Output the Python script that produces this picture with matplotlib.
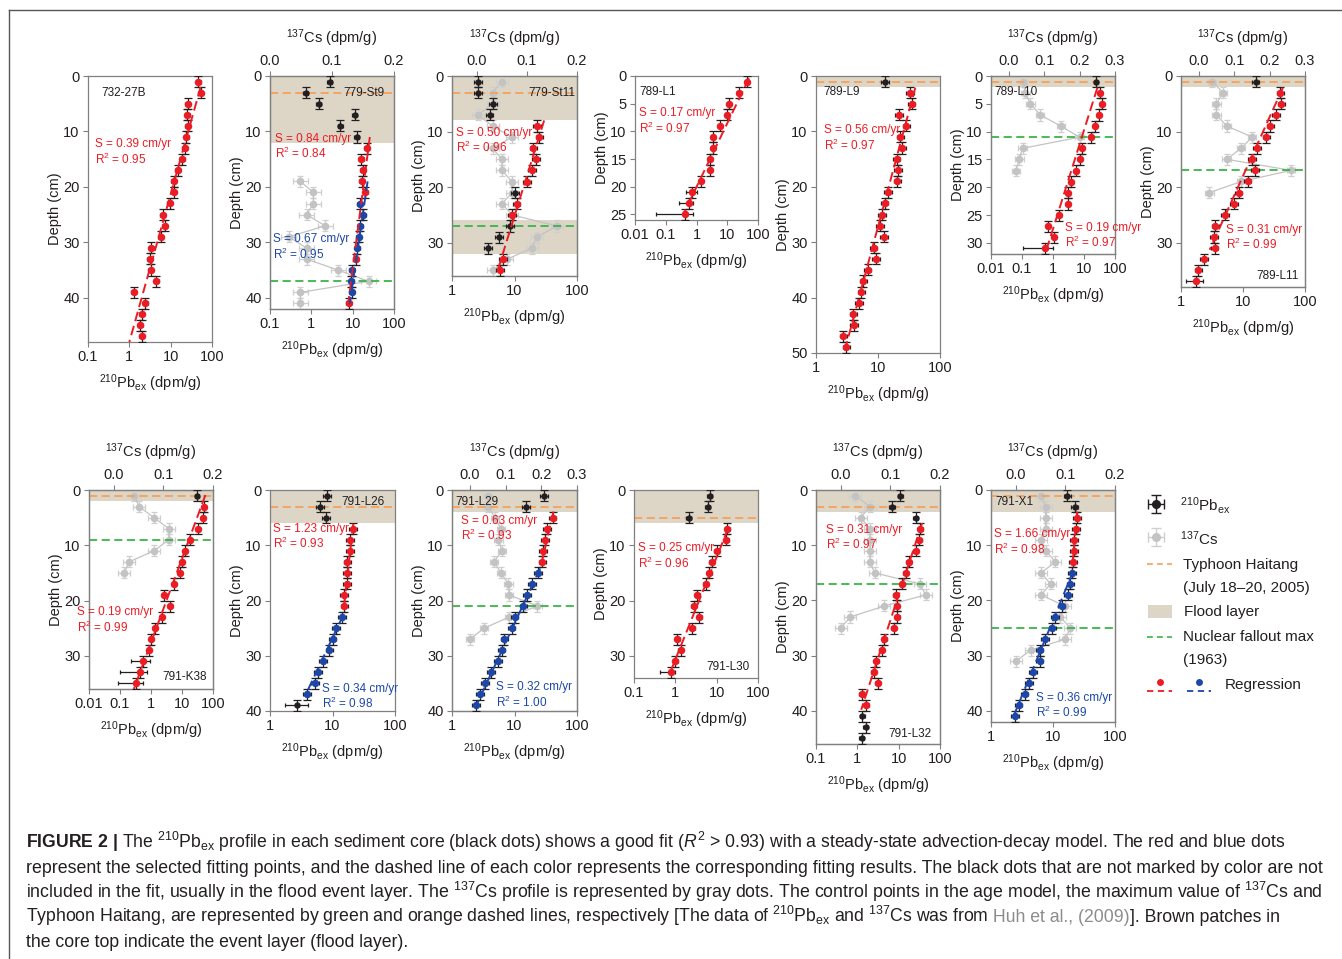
import matplotlib
matplotlib.use('Agg')
import matplotlib.pyplot as plt
from matplotlib import font_manager
from matplotlib.lines import Line2D
from matplotlib.patches import Rectangle
from matplotlib.ticker import FixedLocator, FuncFormatter, NullLocator

W, H = 1342, 959

RED = '#ec1c24'
BLUE = '#1c47a8'
BLACK = '#231f20'
GRAY_DOT = '#c3c3c3'
GRAY_BAR = '#cfcfcf'
FLOOD = '#ddd6c6'
ORANGE = '#f5a05a'
GREEN = '#3bb44a'
SPINE = '#808080'
TXT = '#231f20'

names = {f.name for f in font_manager.fontManager.ttflist}
CAP_FONT = 'Liberation Sans Narrow' if 'Liberation Sans Narrow' in names else 'Liberation Sans'

plt.rcParams['font.family'] = ['Liberation Sans', 'DejaVu Sans']
plt.rcParams['mathtext.fontset'] = 'custom'
plt.rcParams['mathtext.rm'] = 'Liberation Sans'
plt.rcParams['mathtext.it'] = 'Liberation Sans:italic'
plt.rcParams['mathtext.bf'] = CAP_FONT + ':bold'

# ---------------- data: depth (cm), 210Pb_ex (dpm/g), fit group (k = not fitted, r = red, b = blue)
c27b_depth = [1, 3, 5, 7, 9, 11, 13, 15, 17, 19, 21, 23, 25, 27, 29, 31, 33, 35, 37, 39, 41, 43, 45, 47]
c27b_pb = [46, 53, 26, 25, 26, 24, 22, 19, 15, 12, 12, 9.5, 6.4, 7.2, 5.7, 3.4, 3.1, 3.3, 4.5, 1.27, 2.4, 2.0, 1.85, 2.0]
c27b_grp = 'rrrrrrrrrrrrrrrrrrrrrrrr'
c27b_fit_red = [(2, 53), (48, 1.0)]
c27b_stats = [(0.39, 0.95)]

st9_depth = [1, 3, 5, 7, 9, 11, 13, 15, 17, 19, 21, 23, 25, 27, 29, 31, 33, 35, 37, 39, 41]
st9_pb = [2.8, 0.73, 1.5, 11.2, 5.0, 12.7, 22, 16, 17.5, 16.8, 20, 15, 17.8, 15.3, 14.2, 13, 12, 9.5, 9.3, 9.5, 8.1]
st9_grp = 'kkkkkkrrrrrbbbbbrbbbr'
st9_cs_depth = [19, 21, 23, 25, 27, 29, 31, 33, 35, 37, 39, 41]
st9_cs = [0.049, 0.070, 0.070, 0.059, 0.089, 0.030, 0.059, 0.059, 0.110, 0.159, 0.049, 0.049]
st9_fit_red = [(11, 26), (41, 7.8)]
st9_fit_blue = [(19, 23), (41, 8.5)]
st9_stats = [(0.84, 0.84), (0.67, 0.95)]

st11_depth = [1, 3, 5, 7, 9, 11, 13, 15, 17, 19, 21, 23, 25, 27, 29, 31, 33, 35]
st11_pb = [2.6, 2.6, 4.5, 4.0, 23, 25, 20, 22, 19, 16, 10.2, 10.8, 9.2, 8.5, 5.7, 3.8, 6.6, 5.9]
st11_grp = 'kkkkrrrrrrkrrkkkrr'
st11_cs_depth = [1, 3, 5, 7, 9, 11, 13, 15, 17, 19, 21, 23, 25, 27, 29, 31, 33, 35]
st11_cs = [0.050, 0.031, 0.031, 0.002, 0.031, 0.070, 0.031, 0.050, 0.050, 0.070, 0.070, 0.050, 0.070,
           0.160, 0.119, 0.110, 0.059, 0.031]
st11_fit_red = [(8, 29.8), (35.5, 5.2)]
st11_stats = [(0.50, 0.96)]

l1_depth = [1, 3, 5, 7, 9, 11, 13, 15, 17, 19, 21, 23, 25]
l1_pb = [44, 23.6, 11.5, 10, 5.9, 3.5, 3.5, 2.7, 2.7, 1.45, 0.72, 0.55, 0.43]
l1_grp = 'rrrrrrrrrrrrr'
l1_wide = {21: (0.45, 1.0), 23: (0.26, 0.78), 25: (0.047, 0.78)}
l1_fit_red = [(0.4, 51), (25, 0.37)]
l1_stats = [(0.17, 0.97)]

l9_depth = [1, 3, 5, 7, 9, 11, 13, 15, 17, 19, 21, 23, 25, 27, 29, 31, 33, 35, 37, 39, 41, 43, 45, 47, 49]
l9_pb = [12.9, 32.5, 34.8, 22, 28.8, 23, 24.8, 20, 21, 20.5, 14.4, 12.8, 11.6, 10.8, 12.4, 8.5, 9.2,
         6.8, 5.8, 5.4, 4.9, 4.0, 4.1, 2.76, 3.1]
l9_grp = 'krrrrrrrrrrrrrrrrrrrrrrrr'
l9_fit_red = [(2.1, 40), (50, 2.84)]
l9_stats = [(0.56, 0.97)]

l10_depth = [1, 3, 5, 7, 9, 11, 13, 15, 17, 19, 21, 23, 25, 27, 29, 31]
l10_pb = [24.5, 33, 37.7, 29.5, 22.5, 16.7, 8.7, 7.6, 5.4, 3.9, 2.96, 3.1, 1.58, 0.70, 1.06, 0.54]
l10_grp = 'krrrrrrrrrrrrrrr'
l10_wide = {31: (0.11, 1.0)}
l10_cs_depth = [1, 3, 5, 7, 9, 11, 13, 15, 17]
l10_cs = [0.039, 0.047, 0.061, 0.089, 0.147, 0.200, 0.039, 0.030, 0.020]
l10_fit_red = [(2.1, 27), (31.3, 0.61)]
l10_stats = [(0.19, 0.97)]

l11_depth = [1, 3, 5, 7, 9, 11, 13, 15, 17, 19, 21, 23, 25, 27, 29, 31, 33, 35, 37]
l11_pb = [16, 40, 41.5, 33.8, 27.6, 23.8, 16.7, 14, 15.6, 11.9, 8.5, 7.1, 5.1, 3.6, 3.4, 3.5, 2.35, 1.9, 1.72]
l11_grp = 'krrrrrrrrrrrrrrrrrr'
l11_wide = {37: (1.22, 2.25)}
l11_cs_depth = [1, 3, 5, 7, 9, 11, 13, 15, 17, 19, 21]
l11_cs = [0.038, 0.069, 0.050, 0.050, 0.079, 0.151, 0.120, 0.079, 0.261, 0.120, 0.030]
l11_fit_red = [(2.1, 44), (31.3, 2.9)]
l11_stats = [(0.31, 0.99)]

k38_depth = [1, 3, 5, 7, 9, 11, 13, 15, 17, 19, 21, 23, 25, 27, 29, 31, 33, 35]
k38_pb = [30.5, 51, 48.7, 33.6, 18.1, 12.8, 10, 8.6, 5.4, 2.7, 4.2, 2.2, 1.35, 1.03, 0.86, 0.57, 0.43, 0.32]
k38_grp = 'krrrrrrrrrrrrrrrrr'
k38_wide = {31: (0.23, 0.9), 33: (0.098, 0.76), 35: (0.088, 0.55)}
k38_cs_depth = [1, 3, 5, 7, 9, 11, 13, 15]
k38_cs = [0.041, 0.051, 0.081, 0.111, 0.111, 0.081, 0.031, 0.021]
k38_fit_red = [(0.9, 57), (36, 0.28)]
k38_stats = [(0.19, 0.99)]

l26_depth = [1, 3, 5, 7, 9, 11, 13, 15, 17, 19, 21, 23, 25, 27, 29, 31, 33, 35, 37, 39]
l26_pb = [8.1, 6.3, 7.9, 21.5, 19, 19, 17.3, 16.9, 16.9, 15.3, 15.5, 14.2, 11.4, 10, 8.9, 7.1, 5.8, 5.3, 3.9, 2.7]
l26_grp = 'kkkrrrrrrrrbbbbbbbbk'
l26_wide = {39: (1.74, 4.0)}
l26_fit_red = [(6.1, 21.5), (21, 15.3)]
l26_fit_blue = [(22.6, 14.9), (37.4, 3.6)]
l26_stats = [(1.23, 0.93), (0.34, 0.98)]

l29_depth = [1, 3, 5, 7, 9, 11, 13, 15, 17, 19, 21, 23, 25, 27, 29, 31, 33, 35, 37, 39]
l29_pb = [29.8, 15.3, 40.6, 32.9, 31, 28.4, 28, 23.6, 18.9, 15.9, 13.9, 10, 9.0, 6.9, 6.2, 5.4, 4.2, 3.35, 2.8, 2.4]
l29_grp = 'kkrrrrrbbbbbbbbbbbbb'
l29_cs_depth = [1, 3, 5, 7, 9, 11, 13, 15, 17, 19, 21, 23, 25, 27]
l29_cs = [0.050, 0.052, 0.070, 0.087, 0.080, 0.090, 0.068, 0.087, 0.108, 0.110, 0.189, 0.110, 0.040, 0.0]
l29_fit_red = [(3.9, 42), (13.3, 27)]
l29_fit_blue = [(14.2, 25.7), (39.2, 2.4)]
l29_stats = [(0.63, 0.93), (0.32, 1.00)]

l30_depth = [1, 3, 5, 7, 9, 11, 13, 15, 17, 19, 21, 23, 25, 27, 29, 31, 33]
l30_pb = [6.8, 6.1, 2.1, 18.2, 16.9, 10.1, 7.6, 6.6, 5.5, 3.4, 2.8, 3.8, 2.6, 1.1, 1.36, 1.0, 0.77]
l30_grp = 'kkkrrrrrrrrrrrrrr'
l30_wide = {33: (0.42, 0.98)}
l30_fit_red = [(7, 18.9), (33.1, 0.74)]
l30_stats = [(0.25, 0.96)]

l32_depth = [1, 3, 5, 7, 9, 11, 13, 15, 17, 19, 21, 23, 25, 27, 29, 31, 33, 35, 37, 39, 41, 43, 45]
l32_pb = [11, 6.9, 26, 33.5, 31.6, 25.6, 17.5, 14.7, 12.1, 8.6, 9.1, 9.3, 7.5, 4.5, 3.9, 2.9, 2.5, 3.1,
          1.28, 1.65, 1.33, 1.6, 1.28]
l32_grp = 'kkkrrrrrrrrrrrrrrrrrkkk'
l32_cs_depth = [1, 3, 5, 7, 9, 11, 13, 15, 17, 19, 21, 23, 25]
l32_cs = [0.029, 0.059, 0.040, 0.059, 0.059, 0.059, 0.059, 0.068, 0.159, 0.171, 0.088, 0.019, 0.0]
l32_fit_red = [(6, 36.9), (39.8, 1.24)]
l32_stats = [(0.31, 0.97)]

x1_depth = [1, 3, 5, 7, 9, 11, 13, 15, 17, 19, 21, 23, 25, 27, 29, 31, 33, 35, 37, 39, 41]
x1_pb = [17.1, 22.4, 24.2, 23.3, 21.8, 21.8, 21, 20.2, 19, 17.3, 13.8, 10.7, 9.8, 7.5, 6.1, 6.1, 4.8, 4.1, 3.5, 2.8, 2.45]
x1_grp = 'kkrrrrrbbbbbbbbbbbbbb'
x1_cs_depth = [1, 3, 5, 7, 9, 11, 13, 15, 17, 19, 21, 23, 25, 27, 29, 31]
x1_cs = [0.051, 0.060, 0.060, 0.060, 0.051, 0.060, 0.080, 0.051, 0.070, 0.051, 0.099, 0.090, 0.110,
         0.099, 0.030, 0.0]
x1_fit_red = [(3.9, 24.5), (14.5, 20.2)]
x1_fit_blue = [(14.8, 21), (41, 2.3)]
x1_stats = [(1.66, 0.98), (0.36, 0.99)]

PB_REL = 1.15     # relative size of the 210Pb error bars
CS_ERR = 0.012    # half width of the 137Cs error bars

# ---------------- panel layout (pixel boxes, axis ranges, event layers, text places)
cores = [
    dict(name='732-27B', rect=(88, 212, 76, 342), xlim=(0.1, 100), ymax=48, ystep=10,
         depth=c27b_depth, pb=c27b_pb, grp=c27b_grp, fits=[(RED, c27b_fit_red)],
         stats=c27b_stats, stat_pos=[(0.15, 12.3)], label=(0.21, 3, 'left')),
    dict(name='779-St9', rect=(270, 394, 76, 309), xlim=(0.1, 100), ymax=42, ystep=10,
         depth=st9_depth, pb=st9_pb, grp=st9_grp, cs_depth=st9_cs_depth, cs=st9_cs, cs_lim=(0, 0.2),
         fits=[(RED, st9_fit_red), (BLUE, st9_fit_blue)], flood=[(0, 12)], orange=3, green=37,
         stats=st9_stats, stat_pos=[(0.13, 11.3), (0.115, 29.4)], label=(60, 3, 'right')),
    dict(name='779-St11', rect=(452, 577, 76, 276), xlim=(1, 100), ymax=36, ystep=10,
         depth=st11_depth, pb=st11_pb, grp=st11_grp, cs_depth=st11_cs_depth, cs=st11_cs,
         cs_lim=(-0.05, 0.2), fits=[(RED, st11_fit_red)], flood=[(0, 8), (26, 32)], orange=3, green=27,
         stats=st11_stats, stat_pos=[(1.15, 10.2)], label=(94, 3, 'right')),
    dict(name='789-L1', rect=(635, 758, 76, 220), xlim=(0.01, 100), ymax=26, ystep=5,
         depth=l1_depth, pb=l1_pb, grp=l1_grp, wide=l1_wide, fits=[(RED, l1_fit_red)],
         stats=l1_stats, stat_pos=[(0.0138, 6.7)], label=(0.0138, 2.8, 'left')),
    dict(name='789-L9', rect=(816, 940, 76, 353), xlim=(1, 100), ymax=50, ystep=10,
         depth=l9_depth, pb=l9_pb, grp=l9_grp, fits=[(RED, l9_fit_red)], flood=[(0, 2)], orange=1,
         stats=l9_stats, stat_pos=[(1.35, 9.8)], label=(1.31, 2.9, 'left')),
    dict(name='789-L10', rect=(991, 1115, 76, 254), xlim=(0.01, 100), ymax=32, ystep=5,
         depth=l10_depth, pb=l10_pb, grp=l10_grp, wide=l10_wide, cs_depth=l10_cs_depth, cs=l10_cs,
         cs_lim=(-0.05, 0.3), fits=[(RED, l10_fit_red)], flood=[(0, 2)], orange=1, green=11,
         stats=l10_stats, stat_pos=[(2.4, 27.3)], label=(0.0131, 2.9, 'left')),
    dict(name='789-L11', rect=(1181, 1305, 76, 287), xlim=(1, 100), ymax=38, ystep=10,
         depth=l11_depth, pb=l11_pb, grp=l11_grp, wide=l11_wide, cs_depth=l11_cs_depth, cs=l11_cs,
         cs_lim=(-0.05, 0.3), fits=[(RED, l11_fit_red)], flood=[(0, 2)], orange=1, green=17,
         stats=l11_stats, stat_pos=[(5.3, 27.7)], label=(78, 36, 'right')),
    dict(name='791-K38', rect=(89, 213, 490, 689), xlim=(0.01, 100), ymax=36, ystep=10,
         depth=k38_depth, pb=k38_pb, grp=k38_grp, wide=k38_wide, cs_depth=k38_cs_depth, cs=k38_cs,
         cs_lim=(-0.05, 0.2), fits=[(RED, k38_fit_red)], flood=[(0, 2)], orange=1, green=9,
         stats=k38_stats, stat_pos=[(0.0041, 22.1)], label=(64, 33.8, 'right')),
    dict(name='791-L26', rect=(270, 395, 490, 711), xlim=(1, 100), ymax=40, ystep=10,
         depth=l26_depth, pb=l26_pb, grp=l26_grp, wide=l26_wide,
         fits=[(RED, l26_fit_red), (BLUE, l26_fit_blue)], flood=[(0, 6)], orange=3,
         stats=l26_stats, stat_pos=[(1.13, 7.0), (6.7, 36.0)], label=(69, 2.1, 'right')),
    dict(name='791-L29', rect=(452, 577, 490, 711), xlim=(1, 100), ymax=40, ystep=10,
         depth=l29_depth, pb=l29_pb, grp=l29_grp, cs_depth=l29_cs_depth, cs=l29_cs, cs_lim=(-0.05, 0.3),
         fits=[(RED, l29_fit_red), (BLUE, l29_fit_blue)], flood=[(0, 4)], orange=3, green=21,
         stats=l29_stats, stat_pos=[(1.38, 5.6), (4.97, 35.7)], label=(1.13, 2.2, 'left')),
    dict(name='791-L30', rect=(634, 758, 490, 678), xlim=(0.1, 100), ymax=34, ystep=10,
         depth=l30_depth, pb=l30_pb, grp=l30_grp, wide=l30_wide, fits=[(RED, l30_fit_red)],
         flood=[(0, 6)], orange=5, stats=l30_stats, stat_pos=[(0.123, 10.5)], label=(63, 32, 'right')),
    dict(name='791-L32', rect=(816, 940, 490, 744), xlim=(0.1, 100), ymax=46, ystep=10,
         depth=l32_depth, pb=l32_pb, grp=l32_grp, cs_depth=l32_cs_depth, cs=l32_cs, cs_lim=(-0.05, 0.2),
         fits=[(RED, l32_fit_red)], flood=[(0, 4)], orange=3, green=17,
         stats=l32_stats, stat_pos=[(0.171, 7.2)], label=(62, 44.2, 'right')),
    dict(name='791-X1', rect=(991, 1115, 490, 722), xlim=(1, 100), ymax=42, ystep=10,
         depth=x1_depth, pb=x1_pb, grp=x1_grp, cs_depth=x1_cs_depth, cs=x1_cs, cs_lim=(-0.05, 0.2),
         fits=[(RED, x1_fit_red), (BLUE, x1_fit_blue)], flood=[(0, 4)], orange=1, green=25,
         stats=x1_stats, stat_pos=[(1.1, 8.0), (5.3, 37.6)], label=(1.18, 2.2, 'left')),
]

GROUP_COLOURS = {'k': BLACK, 'r': RED, 'b': BLUE}
TICK_SIZE = 10.5
LABEL_SIZE = 10.5
NOTE_SIZE = 8.5

fig = plt.figure(figsize=(W / 100, H / 100), dpi=100)


def px_rect(x0, x1, y0, y1):
    return [x0 / W, 1 - y1 / H, (x1 - x0) / W, (y1 - y0) / H]


def style_axis(ax):
    for sp in ax.spines.values():
        sp.set_color(SPINE)
        sp.set_linewidth(0.9)
    ax.tick_params(colors=SPINE, labelcolor=TXT, labelsize=TICK_SIZE, length=3.5, width=0.8, pad=2.5)


def decade_ticks(lo, hi):
    ticks = []
    v = lo
    while v <= hi * 1.001:
        ticks.append(v)
        v *= 10
    return ticks


def draw_core(c):
    ax = fig.add_axes(px_rect(*c['rect']))
    ax.set_xscale('log')
    ax.set_xlim(*c['xlim'])
    ax.set_ylim(c['ymax'], 0)
    ax.xaxis.set_major_locator(FixedLocator(decade_ticks(*c['xlim'])))
    ax.xaxis.set_minor_locator(NullLocator())
    ax.xaxis.set_major_formatter(FuncFormatter(lambda v, p: f'{v:g}'))
    ax.set_yticks(list(range(0, c['ymax'] + 1, c['ystep'])))
    style_axis(ax)
    ax.set_ylabel('Depth (cm)', fontsize=LABEL_SIZE, labelpad=1, color=TXT)
    ax.set_xlabel(r'$^{210}$Pb$_{\rm ex}$ (dpm/g)', fontsize=LABEL_SIZE, labelpad=6, color=TXT)

    back = ax
    if 'cs' in c:
        cax = ax.twiny()
        cax.set_xlim(*c['cs_lim'])
        ticks = [t / 10 for t in range(0, 4) if t / 10 <= c['cs_lim'][1] + 1e-9]
        cax.set_xticks(ticks)
        cax.xaxis.set_major_formatter(FuncFormatter(lambda v, p: f'{v:.1f}'))
        style_axis(cax)
        cax.set_xlabel(r'$^{137}$Cs (dpm/g)', fontsize=LABEL_SIZE, labelpad=8, color=TXT)
        ax.set_zorder(cax.get_zorder() + 1)
        ax.patch.set_visible(False)
        cax.errorbar(c['cs'], c['cs_depth'], xerr=CS_ERR, yerr=1, fmt='-o', color=GRAY_DOT,
                     ecolor=GRAY_BAR, lw=0.9, ms=4.5, elinewidth=0.9, capsize=2.5, capthick=0.9,
                     zorder=3)
        back = cax

    for top, bot in c.get('flood', []):
        back.axhspan(top, bot, color=FLOOD, lw=0, zorder=0)
    if 'orange' in c:
        ax.axhline(c['orange'], color=ORANGE, lw=1.3, dashes=(4.5, 2.5), zorder=2)
    if 'green' in c:
        ax.axhline(c['green'], color=GREEN, lw=1.3, dashes=(4.5, 2.5), zorder=2)

    wide = c.get('wide', {})
    lo, hi = [], []
    for d, v in zip(c['depth'], c['pb']):
        if d in wide:
            a, b = wide[d]
        else:
            a, b = v / PB_REL, v * PB_REL
        lo.append(v - a)
        hi.append(b - v)
    # depth interval bars with wide caps, activity bars with short caps
    ax.errorbar(c['pb'], c['depth'], yerr=1, fmt='none', ecolor=BLACK,
                elinewidth=0.9, capsize=3.2, capthick=0.9, zorder=3)
    ax.errorbar(c['pb'], c['depth'], xerr=[lo, hi], fmt='none', ecolor=BLACK,
                elinewidth=0.9, capsize=1.6, capthick=0.9, zorder=3)
    for g, col in GROUP_COLOURS.items():
        xs = [v for v, k in zip(c['pb'], c['grp']) if k == g]
        ys = [d for d, k in zip(c['depth'], c['grp']) if k == g]
        if xs:
            ax.plot(xs, ys, 'o', color=col, ms=4.6 if g == 'k' else 5.4, mew=0, zorder=4)

    for col, fit in c['fits']:
        (d0, v0), (d1, v1) = fit
        ax.plot([v0, v1], [d0, d1], color=col, lw=1.4, dashes=(5, 2.5), zorder=5)

    fit_cols = [col for col, _ in c['fits']]
    for col, (s, r2), (x, y) in zip(fit_cols, c['stats'], c['stat_pos']):
        ax.text(x, y, f'S = {s:.2f} cm/yr', color=col, fontsize=NOTE_SIZE, va='center', ha='left', zorder=6)
        ax.text(x, y + 2.7, f'R$^2$ = {r2:.2f}', color=col, fontsize=NOTE_SIZE, va='center', ha='left',
                zorder=6)

    lx, ly, lha = c['label']
    ax.text(lx, ly, c['name'], fontsize=NOTE_SIZE, color=TXT, ha=lha, va='center', zorder=6)


for core in cores:
    draw_core(core)

# ---------------- legend
lax = fig.add_axes(px_rect(1140, 1340, 480, 710))
lax.set_xlim(1140, 1340)
lax.set_ylim(710, 480)
lax.axis('off')
LEG = 11
lax.errorbar([1156], [504], xerr=8, yerr=9, fmt='o', color=BLACK, ms=5.5, elinewidth=1, capsize=3.5)
lax.text(1180, 505, r'$^{210}$Pb$_{\rm ex}$', fontsize=LEG, va='center', color=TXT)
lax.errorbar([1156], [537], xerr=8, yerr=9, fmt='o', color=GRAY_DOT, ecolor=GRAY_BAR, ms=5.5,
             elinewidth=1, capsize=3.5)
lax.text(1180, 539, r'$^{137}$Cs', fontsize=LEG, va='center', color=TXT)
lax.plot([1147, 1172], [564, 564], color=ORANGE, lw=1.2, dashes=(3.5, 2.5))
lax.text(1183, 565, 'Typhoon Haitang', fontsize=LEG, va='center', color=TXT)
lax.text(1183, 588, '(July 18\u201320, 2005)', fontsize=LEG, va='center', color=TXT)
lax.add_patch(Rectangle((1148, 605), 24, 13, color=FLOOD, lw=0))
lax.text(1184, 612, 'Flood layer', fontsize=LEG, va='center', color=TXT)
lax.plot([1147, 1172], [637, 637], color=GREEN, lw=1.2, dashes=(3.5, 2.5))
lax.text(1183, 637, 'Nuclear fallout max', fontsize=LEG, va='center', color=TXT)
lax.text(1183, 660, '(1963)', fontsize=LEG, va='center', color=TXT)
lax.plot([1160], [682], 'o', color=RED, ms=5, mew=0)
lax.plot([1147, 1172], [691, 691], color=RED, lw=1.3, dashes=(3.5, 2.5))
lax.plot([1199], [682], 'o', color=BLUE, ms=5, mew=0)
lax.plot([1187, 1211], [691, 691], color=BLUE, lw=1.3, dashes=(3.5, 2.5))
lax.text(1225, 685, 'Regression', fontsize=LEG, va='center', color=TXT)

# ---------------- frame lines
fig.add_artist(Line2D([9 / W, 1], [1 - 10 / H, 1 - 10 / H], color='#555555', lw=1))
fig.add_artist(Line2D([9 / W, 9 / W], [0, 1 - 10 / H], color='#555555', lw=1))

# ---------------- caption
renderer = fig.canvas.get_renderer()
CAP_X = 26
cap_lines = [
    ([(r'$\bf{FIGURE\ 2\ |}$ The $^{210}$Pb$_{\rm ex}$ profile in each sediment core (black dots) shows a good '
       r'fit ($R^2$ > 0.93) with a steady-state advection-decay model. The red and blue dots', TXT)], 848, 1281),
    ([('represent the selected fitting points, and the dashed line of each color represents the corresponding '
       'fitting results. The black dots that are not marked by color are not', TXT)], 873, 1323),
    ([(r'included in the fit, usually in the flood event layer. The $^{137}$Cs profile is represented by gray '
       r'dots. The control points in the age model, the maximum value of $^{137}$Cs and', TXT)], 898, 1323),
    ([(r'Typhoon Haitang, are represented by green and orange dashed lines, respectively [The data of '
       r'$^{210}$Pb$_{\rm ex}$ and $^{137}$Cs was from', TXT), (' Huh et al., (2009)', '#8c8c8c'),
      ('].  Brown patches in'.replace('  ', ' '), TXT)], 922, 1281),
    ([('the core top indicate the event layer (flood layer).', TXT)], 947, None),
]

base_size = 12
last_size = base_size
for pieces, y, x_end in cap_lines:
    texts = [fig.text(CAP_X / W, 1 - y / H, s, fontsize=base_size, color=col, family=CAP_FONT,
                      va='baseline', ha='left') for s, col in pieces]
    widths = [t.get_window_extent(renderer).width for t in texts]
    size = base_size * (x_end - CAP_X) / sum(widths) if x_end else last_size
    if x_end:
        last_size = size
    x = CAP_X
    for t in texts:
        t.set_fontsize(size)
        t.set_x(x / W)
        x += t.get_window_extent(renderer).width

fig.savefig('out.png', dpi=100)
